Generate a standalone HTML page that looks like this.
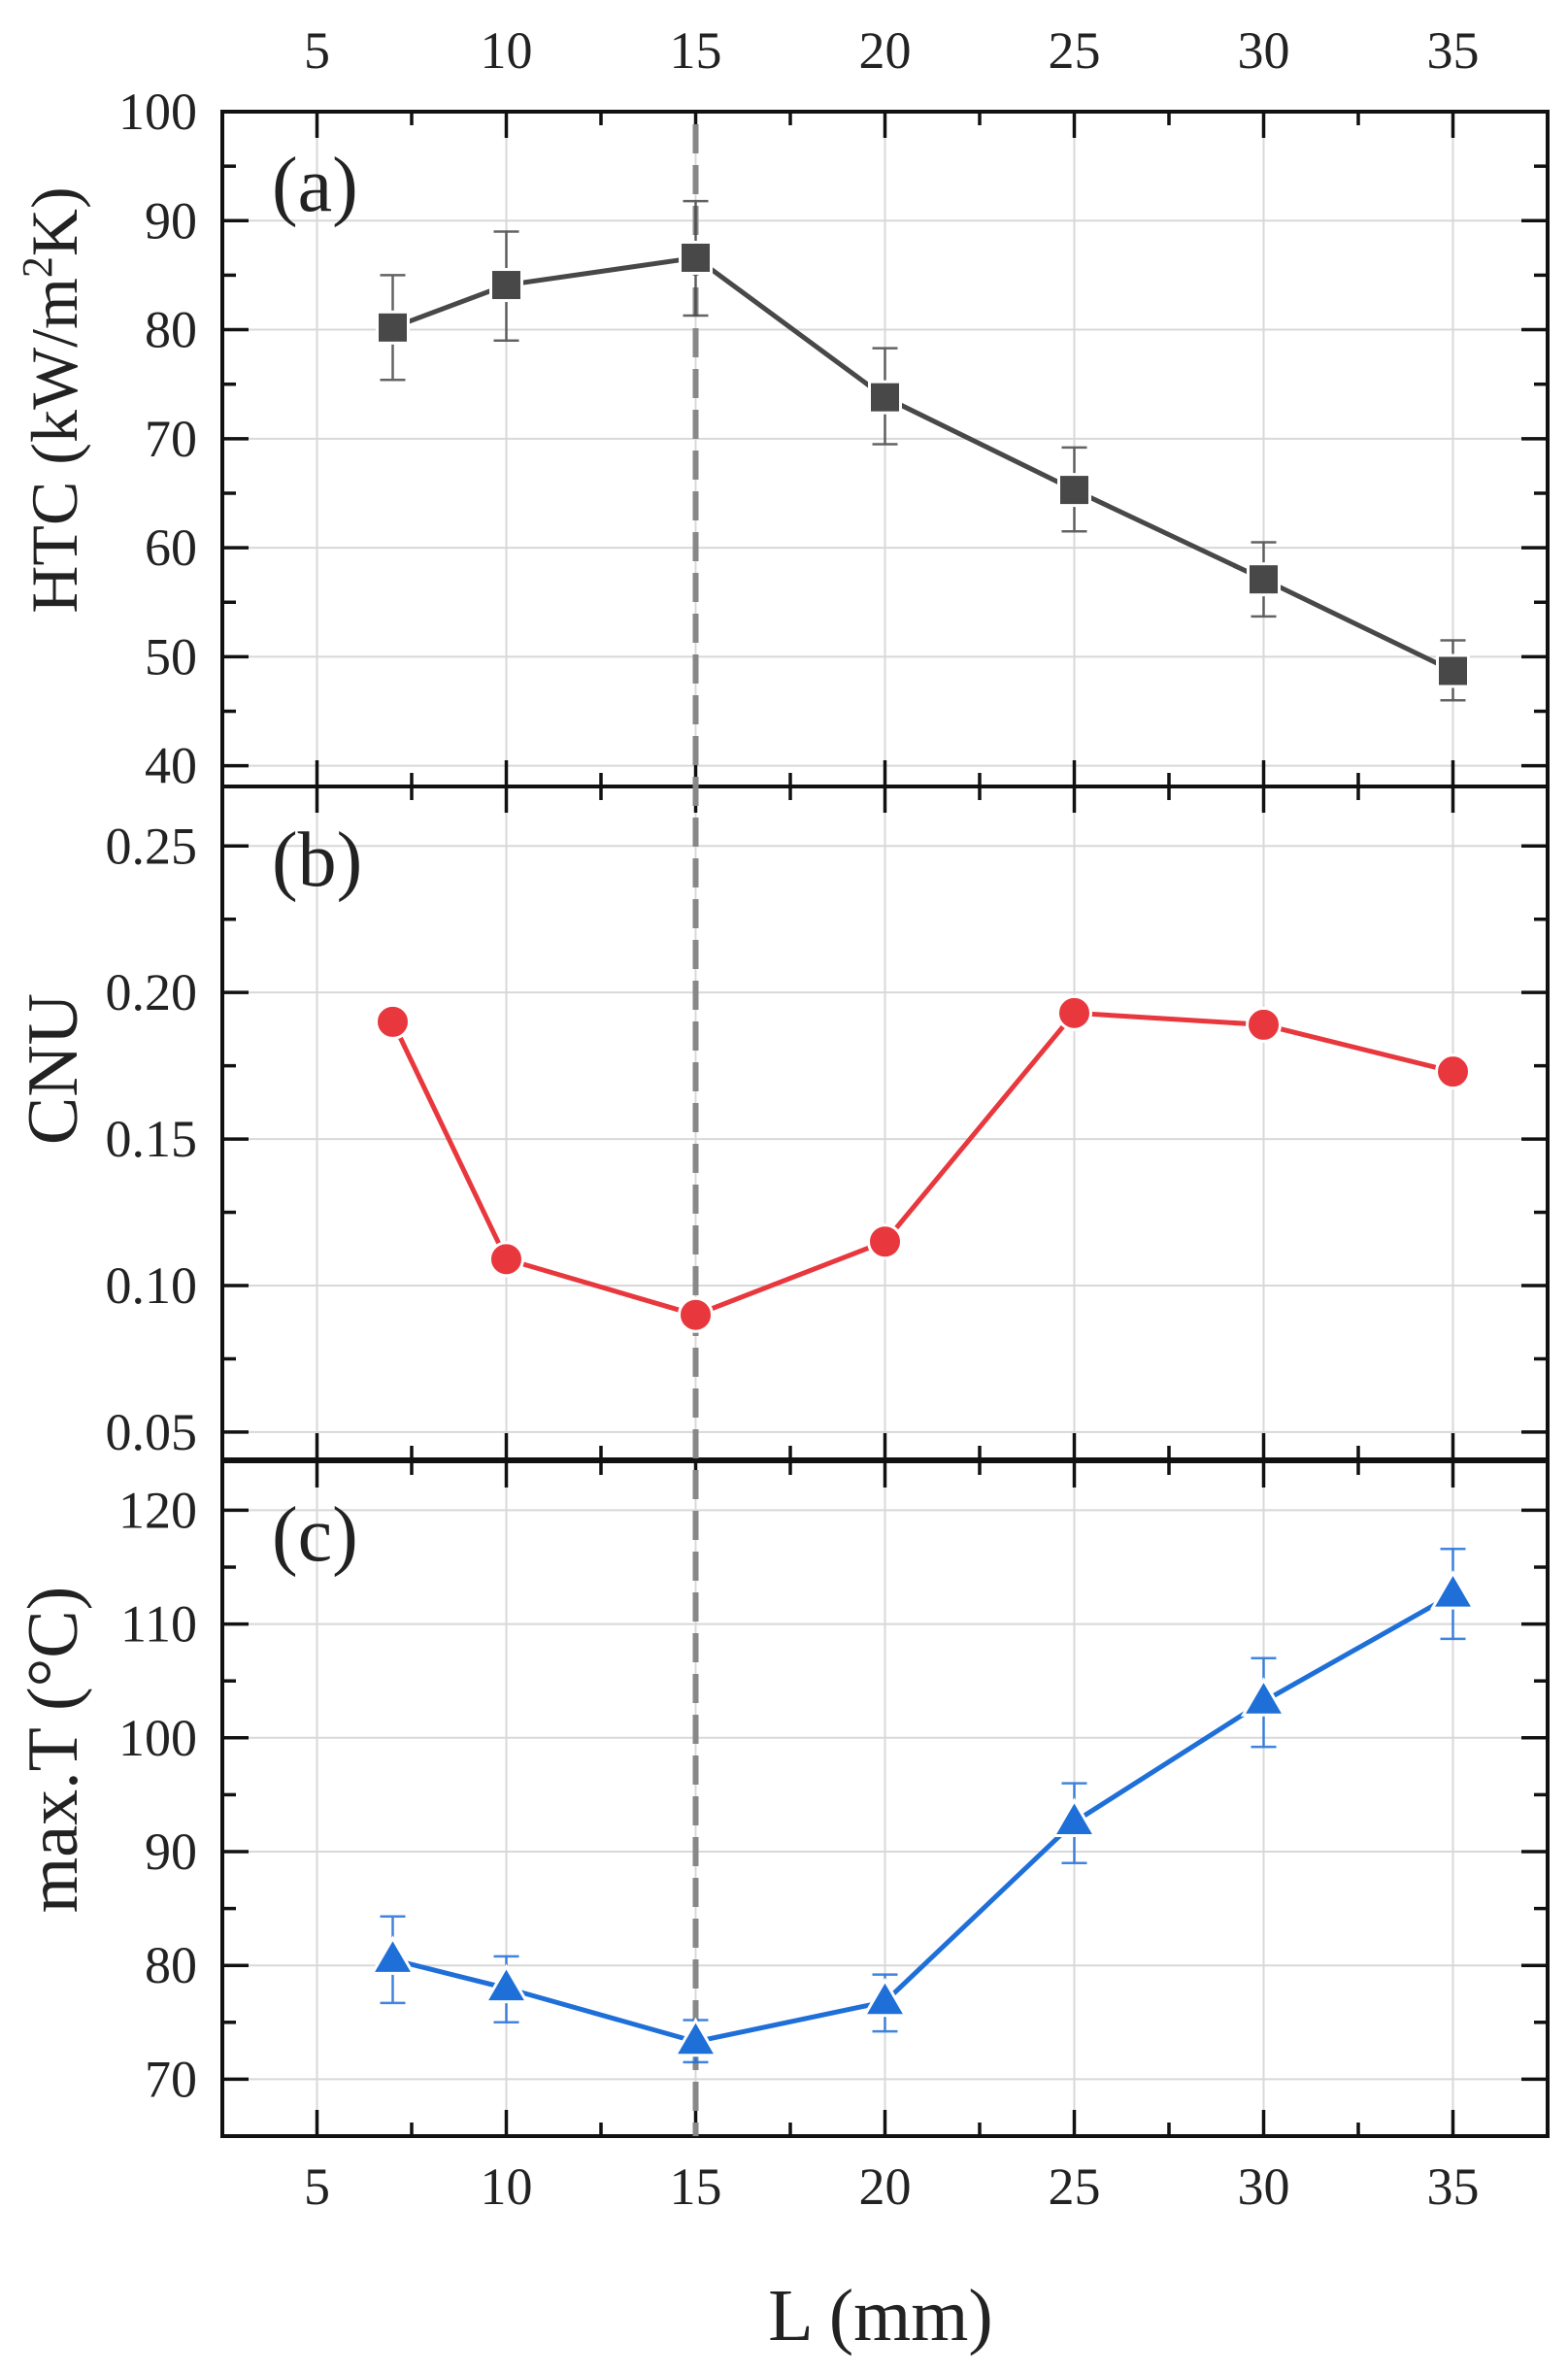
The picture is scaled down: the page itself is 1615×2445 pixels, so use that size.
<!DOCTYPE html>
<html><head><meta charset="utf-8"><style>
html,body{margin:0;padding:0;background:#fff}
svg{display:block}
text{font-family:"Liberation Serif",serif;fill:#222}
</style></head><body>
<svg id="chart" width="1615" height="2445" viewBox="0 0 1615 2445" xmlns="http://www.w3.org/2000/svg"></svg>
<script>
const categories=[7,10,15,20,25,30,35];
const htcValues=[80.2,84.1,86.6,73.8,65.3,57.1,48.7];
const htcLow=[75.4,79.0,81.3,69.5,61.5,53.7,46.0];
const htcHigh=[85.0,89.0,91.8,78.3,69.2,60.5,51.5];
const cnuValues=[0.190,0.109,0.090,0.115,0.193,0.189,0.173];
const tValues=[80.5,78.0,73.3,76.8,92.6,103.2,112.6];
const tLow=[76.7,75.0,71.5,74.2,89.0,99.2,108.7];
const tHigh=[84.3,80.8,75.2,79.2,96.0,107.0,116.6];
const xTicks=[5,10,15,20,25,30,35];
const htcTicks=[40,50,60,70,80,90,100];
const cnuTicks=[0.05,0.10,0.15,0.20,0.25];
const tTicks=[70,80,90,100,110,120];
const optimumL=15;

const NS="http://www.w3.org/2000/svg";
const svg=document.getElementById('chart');
function el(tag,attrs,parent){const e=document.createElementNS(NS,tag);for(const k in attrs)e.setAttribute(k,attrs[k]);(parent||svg).appendChild(e);return e;}
const L=229,R=1594;
const xMin=2.5,xMax=37.5;
function X(v){return L+(v-xMin)/(xMax-xMin)*(R-L);}
const panels=[
 {id:'htc',top:115,bot:810,min:38.1,max:100,ticks:htcTicks,minorStep:5,fmt:v=>String(v),label:'(a)'},
 {id:'cnu',top:810,bot:1503,min:0.0407,max:0.2703,ticks:cnuTicks,minorStep:0.025,fmt:v=>v.toFixed(2),label:'(b)'},
 {id:'t',top:1505,bot:2200,min:65,max:124.3,ticks:tTicks,minorStep:5,fmt:v=>String(v),label:'(c)'}
];
panels.forEach(p=>{p.Y=v=>p.bot-(v-p.min)/(p.max-p.min)*(p.bot-p.top);});

panels.forEach((p,i)=>{
 const g=el('g',{});
 
 
 xTicks.forEach(v=>{const l=el('line',{x1:X(v),x2:X(v),y1:p.top,y2:p.bot,stroke:'#d8d8d8','stroke-width':2},g);
  });
 p.ticks.forEach(v=>{const l=el('line',{x1:L,x2:R,y1:p.Y(v),y2:p.Y(v),stroke:'#d8d8d8','stroke-width':2},g);
  });
 p.ticks.forEach(v=>{
  el('line',{x1:L,x2:L+27,y1:p.Y(v),y2:p.Y(v),stroke:'#111','stroke-width':3.5},g);
  el('line',{x1:R,x2:R-27,y1:p.Y(v),y2:p.Y(v),stroke:'#111','stroke-width':3.5},g);
  const t=el('text',{x:203,y:p.Y(v)+18,'text-anchor':'end','font-size':54},g);
  t.textContent=p.fmt(v);
  
  const m=v+p.minorStep;const my=p.Y(m);
  if(my>p.top+4&&my<p.bot-4){
   el('line',{x1:L,x2:L+14,y1:my,y2:my,stroke:'#111','stroke-width':3.5},g);
   el('line',{x1:R,x2:R-14,y1:my,y2:my,stroke:'#111','stroke-width':3.5},g);}
  const m2=v-p.minorStep;const my2=p.Y(m2);
  if(v===p.ticks[0]&&my2>p.top+4&&my2<p.bot-4){
   el('line',{x1:L,x2:L+14,y1:my2,y2:my2,stroke:'#111','stroke-width':3.5},g);
   el('line',{x1:R,x2:R-14,y1:my2,y2:my2,stroke:'#111','stroke-width':3.5},g);}
 });
 xTicks.forEach(v=>{
  el('line',{x1:X(v),x2:X(v),y1:p.bot,y2:p.bot-27,stroke:'#111','stroke-width':3.5},g);
  el('line',{x1:X(v),x2:X(v),y1:p.top,y2:p.top+27,stroke:'#111','stroke-width':3.5},g);
  const mx=X(v+2.5);
  if(v+2.5<xMax){el('line',{x1:mx,x2:mx,y1:p.bot,y2:p.bot-14,stroke:'#111','stroke-width':3.5},g);
  el('line',{x1:mx,x2:mx,y1:p.top,y2:p.top+14,stroke:'#111','stroke-width':3.5},g);}
 });
 const fr=el('rect',{x:L,y:p.top,width:R-L,height:p.bot-p.top,fill:'none',stroke:'#111','stroke-width':4},g);
 
 const lab=el('text',{x:280,y:p.top+102,'font-size':80},g);
 lab.textContent=p.label;
 
});

xTicks.forEach(v=>{
 const t=el('text',{x:X(v),y:70,'text-anchor':'middle','font-size':54});t.textContent=v;
 
 const b=el('text',{x:X(v),y:2270,'text-anchor':'middle','font-size':54});b.textContent=v;
 
});
function vtitle(txt,cx,cy,fs,name){const t=el('text',{x:0,y:0,'text-anchor':'middle','font-size':fs,transform:`translate(${cx+24},${cy}) rotate(-90)`});t.innerHTML=txt;
 }
vtitle('HTC (kW/m<tspan font-size="44" dy="-26">2</tspan><tspan dy="26">K)</tspan>',55,412,68,'htc-axis-title');
vtitle('CNU',55,1101,74,'cnu-axis-title');
vtitle('max.T (°C)',55,1802,74,'maxt-axis-title');
const xt=el('text',{x:907,y:2410,'text-anchor':'middle','font-size':76});xt.textContent='L (mm)';


const dl=el('line',{x1:X(optimumL),x2:X(optimumL),y1:128,y2:2200,stroke:'#888','stroke-width':6,'stroke-dasharray':'30 12'});


function series(p,vals,lo,hi,color,shape,name){
 const g=el('g',{});
 
 if(lo){categories.forEach((c,i)=>{
  const x=X(c),y1=p.Y(lo[i]),y2=p.Y(hi[i]);
  const e=el('path',{d:`M${x},${y1}V${y2}M${x-13},${y1}H${x+13}M${x-13},${y2}H${x+13}`,stroke:color,'stroke-width':2.5,fill:'none',opacity:0.85},g);
  });}
 const pl=el('polyline',{points:categories.map((c,i)=>X(c)+','+p.Y(vals[i])).join(' '),fill:'none',stroke:color,'stroke-width':5},g);
 
 categories.forEach((c,i)=>{
  const x=X(c),y=p.Y(vals[i]);let m;
  if(shape==='square')m=el('rect',{x:x-16,y:y-16,width:32,height:32,fill:color,stroke:'#fff','stroke-width':3},g);
  else if(shape==='circle')m=el('circle',{cx:x,cy:y,r:17,fill:color,stroke:'#fff','stroke-width':3},g);
  else m=el('path',{d:`M${x},${y-22}L${x+21},${y+14}L${x-21},${y+14}Z`,fill:color,stroke:'#fff','stroke-width':3},g);
  
 });
}
series(panels[0],htcValues,htcLow,htcHigh,'#484848','square','htc');
series(panels[1],cnuValues,null,null,'#e8383d','circle','cnu');
series(panels[2],tValues,tLow,tHigh,'#1f6fd8','triangle','maxt');
</script>
</body></html>
